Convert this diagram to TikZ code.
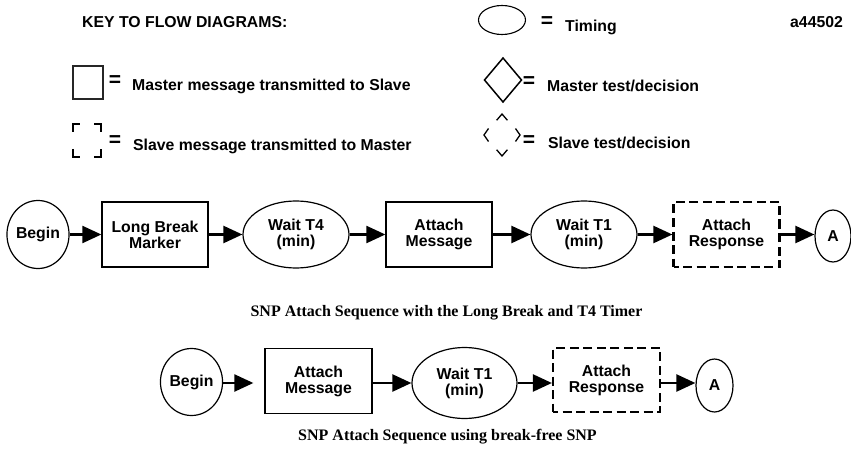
\documentclass[tikz,border=0pt]{standalone}
\usepackage{fontspec}
\setmainfont{Liberation Sans}
\newfontfamily\capfont{Liberation Serif}
\usetikzlibrary{arrows.meta,shapes.geometric}
\begin{document}
\begin{tikzpicture}[x=1pt,y=-1pt,
  every node/.style={font=\fontsize{15.8}{16}\selectfont\bfseries, align=center, inner sep=0pt},
  msg/.style={draw, line width=1.3pt, minimum width=106pt, minimum height=65pt},
  slavemsg/.style={draw, line width=2.2pt, dash pattern=on 9pt off 4.5pt, dash phase=4pt, minimum width=106pt, minimum height=65pt},
  timing/.style={draw, ellipse, line width=1.2pt, minimum width=106pt, minimum height=67pt},
  term/.style={draw, ellipse, line width=1.2pt},
  flow/.style={line width=2.3pt, -{Triangle[length=19pt,width=17pt]}},
  lbl/.style={anchor=west},
  eqs/.style={font=\fontsize{21}{21}\selectfont\bfseries},
  captxt/.style={font=\fontsize{16}{18}\selectfont\capfont\bfseries},
  keyline/.style={line width=1.1pt},
  keybold/.style={line width=2pt}
]
\fill[white] (0,0) rectangle (851,449);
\useasboundingbox (0,0) rectangle (851,449);

% ---------- key ----------
\node[lbl] (keytitle) at (82,22) {KEY TO FLOW DIAGRAMS:};
\node[lbl] (fig) at (790,22) {a44502};

\draw[keyline, black!85] (73,66) rectangle (103,99);
\node[eqs] (eq1) at (115,81) {=};
\node[lbl] (t1) at (132,86) {Master message transmitted to Slave};

\draw[keybold] (73,132) -- (73,124) -- (80,124);
\draw[keybold] (94,124) -- (101,124) -- (101,132);
\draw[keybold] (73,149) -- (73,157) -- (80,157);
\draw[keybold] (94,157) -- (101,157) -- (101,149);
\node[eqs] (eq2) at (115,141) {=};
\node[lbl] (t2) at (133,146) {Slave message transmitted to Master};

\draw[keyline] (502,20) ellipse [x radius=23.5pt, y radius=14.5pt];
\node[eqs] (eq3) at (547,22) {=};
\node[lbl] (t3) at (565,27) {Timing};

\draw[line width=1.5pt] (503,58) -- (521.5,80) -- (503,102) -- (484.5,80) -- cycle;
\node[eqs] (eq4) at (529,82) {=};
\node[lbl] (t4) at (547,86) {Master test/decision};

\draw[line width=1.3pt] (496.6,120.3) -- (502,114) -- (507.4,120.3);
\draw[line width=1.3pt] (515.5,128.5) -- (520,135) -- (515.5,141.5);
\draw[line width=1.3pt] (496.6,149.7) -- (502,156) -- (507.4,149.7);
\draw[line width=1.3pt] (488.5,128.5) -- (484,135) -- (488.5,141.5);
\node[eqs] (eq5) at (529,141) {=};
\node[lbl] (t5) at (548,143) {Slave test/decision};

% ---------- sequence 1 ----------
\node[term, minimum width=58pt, minimum height=68pt] (b1) at (38,234.5) {Begin};
\node[msg] (lbm) at (155,234.5) {Long Break\\Marker};
\node[timing] (w4) at (296,234.5) {Wait T4\\(min)};
\node[msg] (am1) at (439,234.5) {Attach\\Message};
\node[timing] (w1a) at (584,234.5) {Wait T1\\(min)};
\node[slavemsg] (ar1) at (726.5,234.5) {Attach\\Response};
\node[term, minimum width=36pt, minimum height=52pt] (a1) at (833,236) {A};

\draw[flow] (b1) -- (lbm);
\draw[flow] (lbm) -- (w4);
\draw[flow] (w4) -- (am1);
\draw[flow] (am1) -- (w1a);
\draw[flow] (w1a) -- (ar1);
\draw[flow] (ar1.east) -- (a1.west |- ar1.east);

\node[captxt] (cap1) at (446.5,313) {SNP Attach Sequence with the Long Break and T4 Timer};

% ---------- sequence 2 ----------
\node[term, minimum width=57pt, minimum height=67pt] (b2) at (191.5,382) {Begin};
\node[msg, minimum width=107pt] (am2) at (318.5,381) {Attach\\Message};
\node[timing, minimum width=105pt, minimum height=71pt] (w1b) at (464.5,383) {Wait T1\\(min)};
\node[slavemsg, minimum width=107pt, minimum height=64pt] (ar2) at (606.5,380) {Attach\\Response};
\node[term, minimum width=37pt, minimum height=53pt] (a2) at (714.5,385.5) {A};

\draw[flow, shorten >=11pt] (b2.east |- 0,383) -- (am2.west |- 0,383);
\draw[flow] (am2.east |- 0,383) -- (w1b.west);
\draw[flow] (w1b.east) -- (ar2.west |- w1b.east);
\draw[flow] (ar2.east |- w1b.east) -- (a2.west |- w1b.east);

\node[captxt] (cap2) at (447.5,437) {SNP Attach Sequence using break-free SNP};
\end{tikzpicture}
\end{document}
